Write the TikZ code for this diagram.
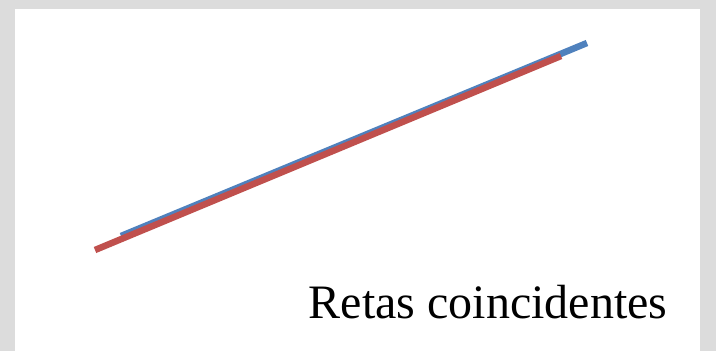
\documentclass[tikz,border=0pt]{standalone}
\usepackage{fontspec}
\setmainfont{Liberation Serif}
\usetikzlibrary{calc,positioning}
\definecolor{RetaAzul}{HTML}{4F81BD}
\definecolor{RetaVermelha}{HTML}{C0504D}
\definecolor{FundoCinza}{HTML}{DCDCDC}

\begin{document}
\begin{tikzpicture}[x=1pt,y=-1pt]
    \useasboundingbox (0,0) rectangle (716,351);
    \fill[FundoCinza] (0,0) rectangle (716,351);
    \fill[white] (15,9) rectangle (700,351);
    % retas
    \coordinate (azulA) at (121,236);
    \coordinate (azulB) at (587,43);
    \coordinate (vermA) at (95,250);
    \coordinate (vermB) at (561,56);
    \draw[RetaAzul, line width=6.5pt] (azulA) -- (azulB);
    \draw[RetaVermelha, line width=6.5pt] (vermA) -- (vermB);
    \node[
      anchor=base,
      inner sep=0pt,
      font=\fontsize{48}{58}\selectfont
    ] (legenda) at (488,318) {Retas coincidentes};
  \end{tikzpicture}
\end{document}
